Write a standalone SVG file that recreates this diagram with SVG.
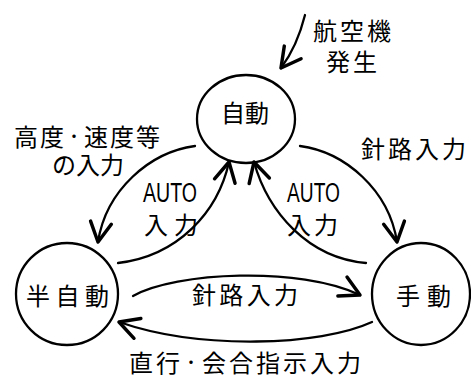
<svg xmlns="http://www.w3.org/2000/svg" width="471" height="377" viewBox="0 0 471 377">
<style>
.n{fill:none;stroke:#000;stroke-width:2.3}
.c{fill:none;stroke:#000;stroke-width:2.3;stroke-linecap:round;marker-end:url(#ah)}
text{font-family:"Noto Sans CJK JP","Noto Sans",sans-serif;font-size:24px;fill:#000;text-anchor:middle;dominant-baseline:central}
text.s{text-anchor:start}
tspan.d{font-size:16px}
.a{font-family:"Liberation Sans","DejaVu Sans",sans-serif;font-size:27px}
</style>
<defs>
<marker id="ah" markerUnits="userSpaceOnUse" markerWidth="30" markerHeight="30" refX="0" refY="0" viewBox="-16 -10 20 20" orient="auto" overflow="visible">
<path d="M-13,-7 L0,0 L-13,7" fill="none" stroke="#000" stroke-width="2.3" stroke-linecap="round" stroke-linejoin="round"/>
</marker>
</defs>
<rect width="471" height="377" fill="#fff"/>
<g id="connectors">
<path class="c" d="M195,146 C150,152 106,190 98,242"/>
<path class="c" d="M300,146 C345,152 389,190 397,242"/>
<path class="c" d="M118,263 C178,256 218,212 229,162"/>
<path class="c" d="M366,263 C308,258 268,212 254,162"/>
<path class="c" d="M133,296 C175,272 300,266 360,295"/>
<path class="c" d="M372,322 C320,346 200,350 119,322"/>
<path class="c" d="M305,15 C300,35 293,52 281,68"/>
</g>
<g id="auto">
<ellipse class="n" cx="246" cy="119" rx="49" ry="44"/>
<text x="245" y="111" textLength="48" lengthAdjust="spacingAndGlyphs">自動</text>
</g>
<g id="semiauto">
<ellipse class="n" cx="67" cy="294" rx="51" ry="51"/>
<text x="67.5" y="294" textLength="83" lengthAdjust="spacing">半自動</text>
</g>
<g id="manual">
<ellipse class="n" cx="421" cy="294" rx="49" ry="51"/>
<text x="423.5" y="294" textLength="55" lengthAdjust="spacing">手動</text>
</g>
<g id="labels">
<text letter-spacing="3"><tspan x="353.5" y="29">航空機</tspan><tspan x="353" y="60">発生</tspan></text>
<text class="s" letter-spacing="2"><tspan x="14" y="135">高度<tspan class="d">・</tspan>速度等</tspan><tspan x="52" y="163" letter-spacing="0">の入力</tspan></text>
<text x="413.5" y="147" textLength="105" lengthAdjust="spacing">針路入力</text>
<text class="a" x="170" y="193" textLength="54" lengthAdjust="spacingAndGlyphs">AUTO</text>
<text x="171" y="223" textLength="54" lengthAdjust="spacing">入力</text>
<text class="a" x="313.5" y="193" textLength="53" lengthAdjust="spacingAndGlyphs">AUTO</text>
<text x="312.5" y="223" textLength="51" lengthAdjust="spacing">入力</text>
<text x="245" y="293" textLength="106" lengthAdjust="spacing">針路入力</text>
<text class="s" x="129" y="361" letter-spacing="3">直行<tspan class="d">・</tspan>会合指示入力</text>
</g>
</svg>
